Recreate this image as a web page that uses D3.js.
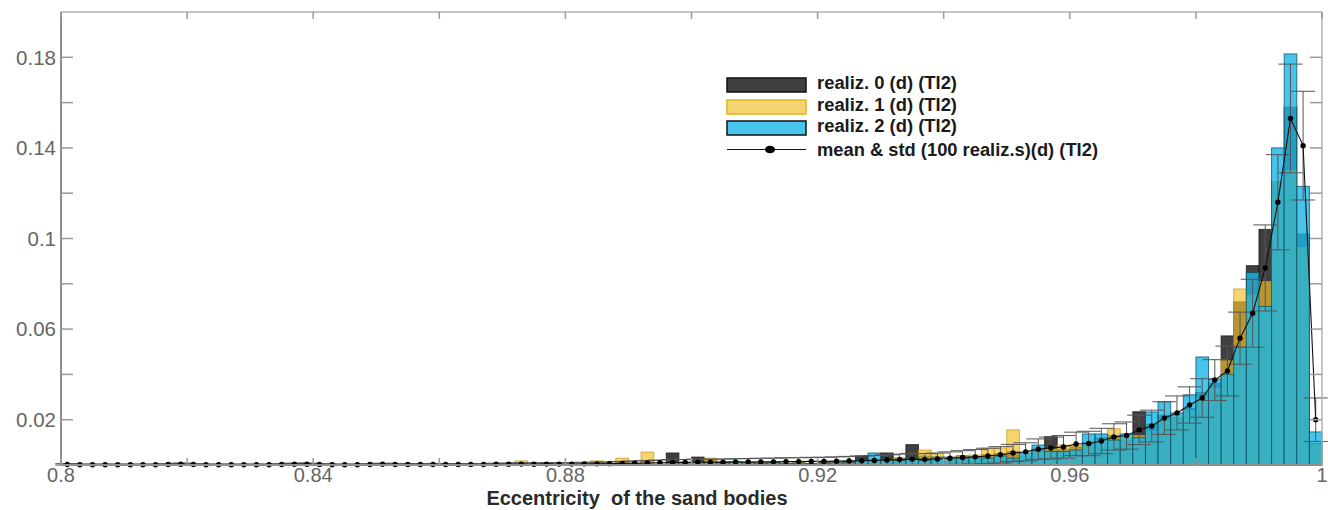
<!DOCTYPE html>
<html>
<head>
<meta charset="utf-8">
<script src="https://cdn.jsdelivr.net/npm/d3@7"></script>
<style>
  html, body { margin: 0; padding: 0; background: #fff; }
  svg { display: block; font-family: "Liberation Sans", Arial, sans-serif; }
</style>
</head>
<body>
<svg id="chart" width="1328" height="510"></svg>
<script>
// ---------------- DATA ----------------
const binStart = 0.8;      // first bin edge
const binWidth = 0.002;    // histogram bin width (100 bins, 0.8 .. 1.0)

const seriesNames = ["realiz. 0 (d) (TI2)", "realiz. 1 (d) (TI2)", "realiz. 2 (d) (TI2)"];
const meanName = "mean & std (100 realiz.s)(d) (TI2)";

const realiz0 = [
  0,0,0,0,0,0,0,0,0,0.0008,
  0,0,0,0,0,0,0,0,0.0007,0.0008,
  0,0,0,0,0,0,0.0005,0,0,0,
  0,0,0,0,0,0,0,0,0.0008,0,
  0,0,0.0006,0,0.001,0,0.0015,0,0.0053,0.001,
  0.0035,0.002,0.0015,0.001,0.0012,0.0008,0.001,0.0005,0.0008,0.0006,
  0.001,0.0012,0.0015,0.004,0.0025,0.0053,0.003,0.009,0.004,0.003,
  0.0025,0.004,0.003,0.0045,0.005,0.006,0.004,0.007,0.0125,0.007,
  0.008,0.01,0.012,0.013,0.011,0.0235,0.018,0.022,0.021,0.025,
  0.032,0.036,0.057,0.072,0.088,0.104,0.125,0.158,0.102,0.0095
];
const realiz1 = [
  0.0005,0,0,0,0,0,0,0,0,0,
  0,0,0,0,0,0,0,0,0,0,
  0,0,0,0,0,0,0,0,0,0,
  0,0,0,0,0,0,0.0018,0,0,0,
  0,0,0.0018,0,0.003,0,0.0057,0.001,0.001,0.0015,
  0.001,0.003,0.0015,0.001,0.0012,0.001,0.0008,0.0006,0.001,0.0005,
  0.0008,0.0012,0.001,0.0015,0.002,0.002,0.003,0.002,0.0066,0.005,
  0.003,0.004,0.0044,0.0075,0.0075,0.0155,0.004,0.006,0.007,0.0088,
  0.0085,0.009,0.011,0.016,0.012,0.013,0.015,0.02,0.022,0.024,
  0.03,0.034,0.046,0.0777,0.075,0.081,0.125,0.130,0.096,0.009
];
const realiz2 = [
  0,0,0,0,0,0,0,0,0,0,
  0,0,0,0,0,0,0,0,0,0,
  0,0,0,0,0,0.0005,0,0,0,0,
  0,0,0,0,0,0,0,0,0,0,
  0,0,0,0,0,0.0008,0,0,0.001,0.001,
  0.0015,0.0012,0.001,0.0015,0.001,0.0008,0.001,0.0007,0.0008,0.0005,
  0.0008,0.001,0.001,0.002,0.0053,0.002,0.002,0.003,0.002,0.0035,
  0.0035,0.003,0.0035,0.003,0.004,0.003,0.0053,0.0088,0.006,0.006,
  0.0066,0.0137,0.0137,0.011,0.0137,0.012,0.0234,0.028,0.023,0.031,
  0.0477,0.038,0.040,0.052,0.085,0.070,0.140,0.1815,0.123,0.0146
];
const meanVals = [
  0.0002,0.0001,0.0001,0.0001,0.0001,0.0001,0.0001,0.0001,0.0002,0.0003,
  0.0002,0.0001,0.0001,0.0001,0.0001,0.0001,0.0001,0.0002,0.0003,0.0003,
  0.0002,0.0001,0.0001,0.0001,0.0002,0.0003,0.0002,0.0002,0.0002,0.0002,
  0.0002,0.0002,0.0002,0.0002,0.0003,0.0003,0.0004,0.0003,0.0004,0.0004,
  0.0004,0.0005,0.0005,0.0006,0.0007,0.0008,0.0009,0.001,0.0011,0.0011,
  0.0012,0.0012,0.0012,0.0013,0.0013,0.0014,0.0014,0.0015,0.0015,0.0016,
  0.0016,0.0017,0.0018,0.0019,0.002,0.0022,0.0024,0.0026,0.0025,0.0027,
  0.003,0.0033,0.0036,0.004,0.0045,0.0053,0.0058,0.007,0.0075,0.008,
  0.0093,0.0095,0.0106,0.0124,0.013,0.0155,0.0172,0.0207,0.023,0.0265,
  0.0296,0.0375,0.0415,0.056,0.067,0.087,0.116,0.153,0.141,0.020
];
const stdVals = [
  0.0004,0.0003,0.0003,0.0003,0.0003,0.0003,0.0003,0.0003,0.0004,0.0005,
  0.0004,0.0003,0.0003,0.0003,0.0003,0.0003,0.0003,0.0004,0.0005,0.0005,
  0.0004,0.0003,0.0003,0.0003,0.0004,0.0005,0.0004,0.0004,0.0004,0.0004,
  0.0004,0.0004,0.0004,0.0004,0.0005,0.0005,0.0006,0.0005,0.0006,0.0006,
  0.0006,0.0007,0.0007,0.0008,0.0009,0.001,0.0011,0.0012,0.0013,0.0013,
  0.0014,0.0014,0.0014,0.0015,0.0015,0.0016,0.0016,0.0017,0.0017,0.0018,
  0.0018,0.0019,0.002,0.0021,0.0022,0.0023,0.0024,0.0025,0.0025,0.0026,
  0.0028,0.003,0.0032,0.0034,0.0036,0.0038,0.004,0.0045,0.0048,0.005,
  0.0052,0.0054,0.0056,0.0058,0.006,0.0065,0.007,0.0072,0.0075,0.008,
  0.0085,0.009,0.011,0.0115,0.015,0.019,0.021,0.024,0.024,0.0096
];

const xTicks = [0.8, 0.82, 0.84, 0.86, 0.88, 0.9, 0.92, 0.94, 0.96, 0.98, 1.0];
const xTickLabels = ["0.8", "", "0.84", "", "0.88", "", "0.92", "", "0.96", "", "1"];
const yTicks = [0.02, 0.04, 0.06, 0.08, 0.1, 0.12, 0.14, 0.16, 0.18];
const yTickLabels = ["0.02", "", "0.06", "", "0.1", "", "0.14", "", "0.18"];
const xTitle = "Eccentricity  of the sand bodies";

// ---------------- LAYOUT ----------------
const svg = d3.select("#chart");
const L = 61, R = 1322, T = 12, B = 465;
const x = d3.scaleLinear().domain([0.8, 1.0]).range([L, R]);
const y = d3.scaleLinear().domain([0, 0.2]).range([B, T]);

const nBins = realiz0.length;
const bins = d3.range(nBins).map(i => binStart + i * binWidth);

const styles = [
  { fill: "#2b2b2b", op: 0.9, stroke: "#111111" },
  { fill: "#f2c12e", op: 0.68, stroke: "#c99a10" },
  { fill: "#19b5e6", op: 0.8, stroke: "#0d4c60" }
];
const seriesData = [realiz0, realiz1, realiz2];

const plot = svg.append("g");

seriesData.forEach((vals, s) => {
  plot.append("g").selectAll("rect")
    .data(vals.map((v, i) => ({ x0: bins[i], v })))
    .join("rect")
    .filter(d => d.v > 0)
    .attr("x", d => x(d.x0))
    .attr("width", d => x(d.x0 + binWidth) - x(d.x0))
    .attr("y", d => y(d.v))
    .attr("height", d => y(0) - y(d.v))
    .attr("fill", styles[s].fill)
    .attr("fill-opacity", styles[s].op)
    .attr("stroke", styles[s].stroke)
    .attr("stroke-opacity", 0.75)
    .attr("stroke-width", 1);
});

// error bars
const eb = plot.append("g").attr("stroke", "#555").attr("stroke-width", 1).attr("fill", "none");
const mData = meanVals.map((m, i) => ({ c: bins[i] + binWidth / 2, m, s: stdVals[i] }));
mData.forEach(d => {
  const cx = x(d.c);
  const lo = Math.max(0, d.m - d.s), hi = d.m + d.s;
  eb.append("line").attr("x1", cx).attr("x2", cx).attr("y1", y(lo)).attr("y2", y(hi));
  eb.append("line").attr("x1", cx - 12).attr("x2", cx + 12).attr("y1", y(hi)).attr("y2", y(hi));
  eb.append("line").attr("x1", cx - 12).attr("x2", cx + 12).attr("y1", y(lo)).attr("y2", y(lo));
});

// mean line
plot.append("path")
  .datum(mData)
  .attr("fill", "none")
  .attr("stroke", "#111")
  .attr("stroke-width", 1.1)
  .attr("d", d3.line().x(d => x(d.c)).y(d => y(d.m)));
plot.append("g").selectAll("circle")
  .data(mData).join("circle")
  .attr("cx", d => x(d.c)).attr("cy", d => y(d.m)).attr("r", 2.7).attr("fill", "#000");

// ---------------- AXES ----------------
const axisColor = "#9a9a9a";
const tickLen = 7;
const axG = svg.append("g");

// frame
axG.append("line").attr("x1", L).attr("x2", R).attr("y1", T).attr("y2", T).attr("stroke", "#b0b0b0").attr("stroke-width", 1.5);
axG.append("line").attr("x1", R).attr("x2", R).attr("y1", T).attr("y2", B).attr("stroke", "#b0b0b0").attr("stroke-width", 1.5);
axG.append("line").attr("x1", L).attr("x2", L).attr("y1", T).attr("y2", B).attr("stroke", "#8f8f8f").attr("stroke-width", 2);
axG.append("line").attr("x1", L).attr("x2", R).attr("y1", B).attr("y2", B).attr("stroke", "#8f8f8f").attr("stroke-width", 2);

// x ticks (top and bottom, inward)
xTicks.forEach((t, i) => {
  const px = x(t);
  axG.append("line").attr("x1", px).attr("x2", px).attr("y1", T).attr("y2", T + tickLen).attr("stroke", axisColor).attr("stroke-width", 1.5);
  axG.append("line").attr("x1", px).attr("x2", px).attr("y1", B).attr("y2", B - tickLen).attr("stroke", axisColor).attr("stroke-width", 1.5);
  if (xTickLabels[i]) {
    axG.append("text").attr("x", px).attr("y", 482)
      .attr("text-anchor", "middle").attr("font-size", 20).attr("fill", "#666")
      .text(xTickLabels[i]);
  }
});
// y ticks (left and right, inward)
yTicks.forEach((t, i) => {
  const py = y(t);
  axG.append("line").attr("x1", L).attr("x2", L + 12).attr("y1", py).attr("y2", py).attr("stroke", axisColor).attr("stroke-width", 1.5);
  axG.append("line").attr("x1", R).attr("x2", R - 12).attr("y1", py).attr("y2", py).attr("stroke", axisColor).attr("stroke-width", 1.5);
  if (yTickLabels[i]) {
    axG.append("text").attr("x", 56).attr("y", py).attr("dy", "0.36em")
      .attr("text-anchor", "end").attr("font-size", 20.5).attr("fill", "#666")
      .text(yTickLabels[i]);
  }
});

// x title
svg.append("text").attr("x", 637).attr("y", 505)
  .attr("text-anchor", "middle").attr("font-size", 20).attr("font-weight", "bold").attr("fill", "#2a2a2a")
  .style("white-space", "pre")
  .text(xTitle);

// ---------------- LEGEND ----------------
const lg = svg.append("g");
const boxX = 727, boxW = 79;
const rowsY = [78, 100, 121];
seriesData.forEach((_, s) => {
  lg.append("rect").attr("x", boxX).attr("y", rowsY[s]).attr("width", boxW).attr("height", 14)
    .attr("fill", styles[s].fill).attr("fill-opacity", styles[s].op)
    .attr("stroke", s === 1 ? "#e2b41c" : "#111").attr("stroke-width", 1.5);
  lg.append("text").attr("x", 817).attr("y", rowsY[s] + 11)
    .attr("font-size", 18).attr("font-weight", "bold").attr("fill", "#1a1a1a")
    .attr("textLength", 140).attr("lengthAdjust", "spacingAndGlyphs")
    .text(seriesNames[s]);
});
lg.append("line").attr("x1", boxX).attr("x2", boxX + boxW).attr("y1", 149.5).attr("y2", 149.5).attr("stroke", "#111").attr("stroke-width", 1.2);
lg.append("ellipse").attr("cx", 770).attr("cy", 149.5).attr("rx", 5).attr("ry", 3.8).attr("fill", "#000");
lg.append("text").attr("x", 817).attr("y", 156)
  .attr("font-size", 18).attr("font-weight", "bold").attr("fill", "#1a1a1a")
  .attr("textLength", 281).attr("lengthAdjust", "spacingAndGlyphs")
  .text(meanName);
</script>
</body>
</html>
